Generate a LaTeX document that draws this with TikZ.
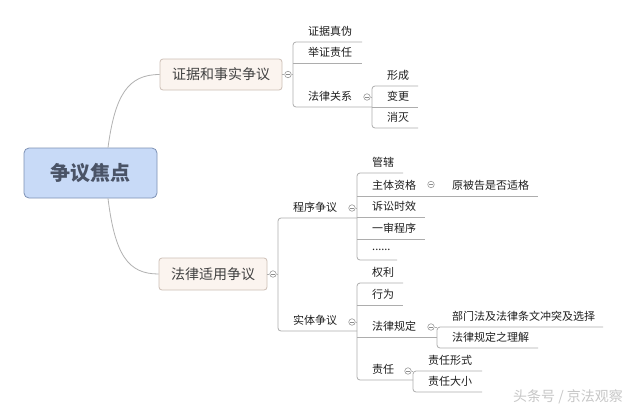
\documentclass[tikz,border=0pt]{standalone}
\usepackage{fontspec}
\setmainfont{Noto Sans CJK SC}
\newfontfamily\cjk{Noto Sans CJK SC}
\definecolor{rootfill}{HTML}{C8DAF7}
\definecolor{rootdraw}{HTML}{7D91B5}
\definecolor{roottext}{HTML}{4A5366}
\definecolor{brfill}{HTML}{FBF4EF}
\definecolor{brdraw}{HTML}{CDBFB6}
\begin{document}
\begin{tikzpicture}[x=1pt,y=-1pt,
  leaf/.style={inner sep=0pt,font=\cjk\fontsize{11}{13}\selectfont,text=black!88},
  elbow/.style={draw=black!32,line width=0.8pt,rounded corners=3pt},
  curve/.style={draw=black!30,line width=0.8pt},
  centre/.style={draw=rootdraw,fill=rootfill,line width=0.8pt,rounded corners=5pt,minimum width=133pt,minimum height=50pt,font=\cjk\bfseries\fontsize{20}{24}\selectfont,text=roottext},
  branch/.style={draw=brdraw,fill=brfill,line width=0.8pt,rounded corners=3pt,minimum height=31pt,inner xsep=12pt,font=\cjk\fontsize{14}{17}\selectfont,text=black!75},
  knob/.style={circle,draw=black!40,fill=white,line width=0.6pt,minimum size=6.5pt,inner sep=0pt,
    path picture={\draw[black!45,line width=0.5pt] ([xshift=-1.7pt]path picture bounding box.center) -- ([xshift=1.7pt]path picture bounding box.center);}},
  wmark/.style={font=\cjk\fontsize{14}{17}\selectfont,text=black!22}
]
\fill[white] (0,0) rectangle (640,410);
\useasboundingbox (0,0) rectangle (640,410);

\newcommand\leaf[5]{%
  \node[leaf,anchor=west] (#1) at (#2+15,#3-10.5) {#5};
  \coordinate (#1L) at (#2,#3);
  \coordinate (#1R) at (#4,#3);
}

% central and branches
\node[centre] (root) at (90.5,173) {争议焦点};
\node[branch] (b1) at (221,74.5) {证据和事实争议};
\node[branch,minimum height=32pt] (b2) at (213,274) {法律适用争议};
\draw[curve] (root.north -| 108,0) .. controls (115,95) and (128,74.5) .. (b1.west);
\draw[curve] (root.south -| 108,0) .. controls (115,255) and (128,274) .. (b2.west);

% branch 1
\node[knob] (k1) at (288,74.5) {};
\leaf{a1}{293}{42}{362}{证据真伪}
\leaf{a2}{293}{63}{362}{举证责任}
\leaf{a3}{293}{107}{372}{法律关系}
\draw[elbow] (a1R) -- (a1L) -- (a3L) -- (a3R);
\draw[elbow] (a2L) -- (a2R);
\draw[elbow] (b1.east) -- (k1);
\draw[elbow] (k1) -- (k1 -| a1L);

\node[knob] (k3) at (367,97) {};
\leaf{c1}{372}{86}{418}{形成}
\leaf{c2}{372}{107}{418}{变更}
\leaf{c3}{372}{128}{418}{消灭}
\draw[elbow] (c1R) -- (c1L) -- (c3L) -- (c3R);
\draw[elbow] (c2L) -- (c2R);
\draw[elbow] (k3) -- (k3 -| c1L);

% branch 2
\node[knob] (k2) at (273,274) {};
\leaf{p}{278}{218}{357}{程序争议}
\leaf{s}{278}{331}{357}{实体争议}
\draw[elbow] (pR) -- (pL) -- (sL) -- (sR);
\draw[elbow] (b2.east) -- (k2);
\draw[elbow] (k2) -- (k2 -| pL);

% procedural
\node[knob] (kp) at (352,208) {};
\leaf{p1}{357}{173}{403}{管辖}
\leaf{p2}{357}{196}{437}{主体资格}
\leaf{p3}{357}{217}{425}{诉讼时效}
\leaf{p4}{357}{239}{425}{一审程序}
\leaf{p5}{357}{260}{397}{......}
\draw[elbow] (p1R) -- (p1L) -- (p5L) -- (p5R);
\draw[elbow] (p2L) -- (p2R);
\draw[elbow] (p3L) -- (p3R);
\draw[elbow] (p4L) -- (p4R);
\draw[elbow] (kp) -- (kp -| p1L);

\node[knob] (kq) at (431,184.5) {};
\leaf{q1}{437}{196}{538}{原被告是否适格}
\draw[elbow] (q1L) -- (q1R);

% substantive
\node[knob] (ks) at (352,322) {};
\leaf{s1}{357}{283}{403}{权利}
\leaf{s2}{357}{305}{403}{行为}
\leaf{s3}{357}{337}{437}{法律规定}
\leaf{s4}{357}{380}{413}{责任}
\draw[elbow] (s1R) -- (s1L) -- (s4L) -- (s4R);
\draw[elbow] (s2L) -- (s2R);
\draw[elbow] (s3L) -- (s3R);
\draw[elbow] (ks) -- (ks -| s1L);

\node[knob] (kl) at (431,327) {};
\leaf{l1}{437}{327}{603}{部门法及法律条文冲突及选择}
\leaf{l2}{437}{348}{538}{法律规定之理解}
\draw[elbow] (l1R) -- (l1L) -- (l2L) -- (l2R);
\draw[elbow] (kl) -- (l1L);

\node[knob] (kr) at (408,371) {};
\leaf{r1}{413}{371}{482}{责任形式}
\leaf{r2}{413}{392}{482}{责任大小}
\draw[elbow] (r1R) -- (r1L) -- (r2L) -- (r2R);
\draw[elbow] (kr) -- (r1L);

\node[wmark] (wm) at (568,397) {头条号 / 京法观察};
\end{tikzpicture}
\end{document}
